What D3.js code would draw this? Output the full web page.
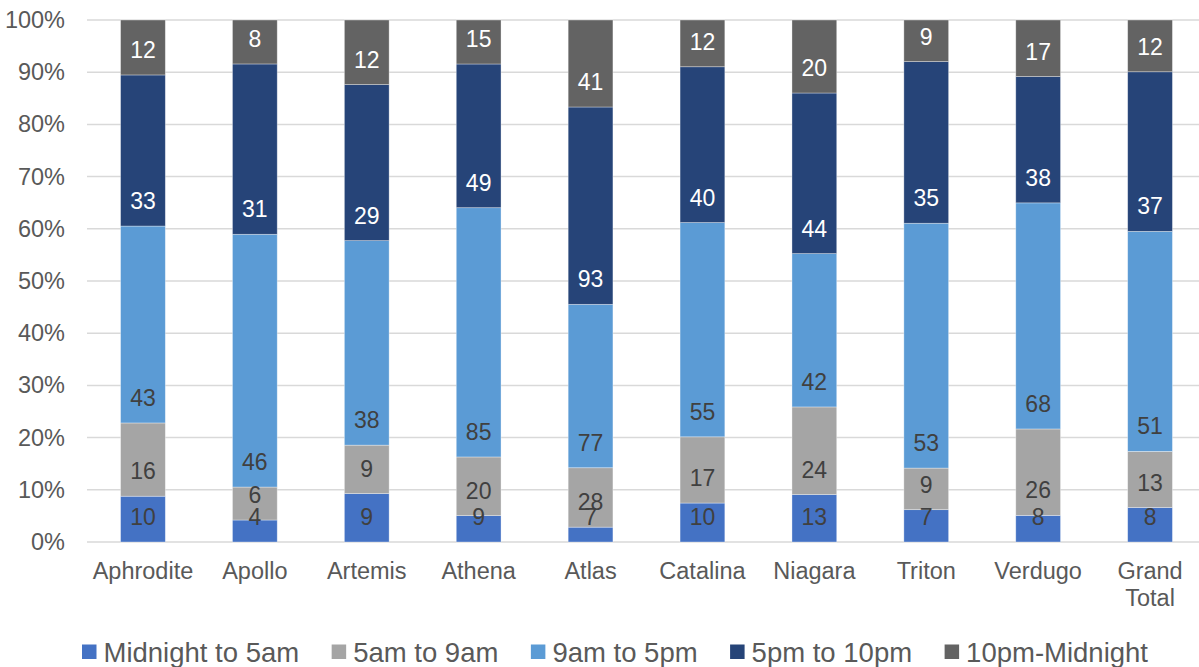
<!DOCTYPE html>
<html>
<head>
<meta charset="utf-8">
<script src="https://cdn.jsdelivr.net/npm/d3@7"></script>
<style>
  html, body { margin: 0; padding: 0; background: #fff; }
  svg { display: block; font-family: "Liberation Sans", Arial, sans-serif; }
</style>
</head>
<body>
<svg id="chart" width="1199" height="667"></svg>
<script>
// Sites (the last one is the overall figure)
const categories = ["Aphrodite", "Apollo", "Artemis", "Athena", "Atlas", "Catalina", "Niagara", "Triton", "Verdugo", "Grand Total"];

// Counts per time-of-day band
const seriesNames = ["Midnight to 5am", "5am to 9am", "9am to 5pm", "5pm to 10pm", "10pm-Midnight"];
const midnightTo5am = [10, 4, 9, 9, 7, 10, 13, 7, 8, 8];
const fiveTo9am     = [16, 6, 9, 20, 28, 17, 24, 9, 26, 13];
const nineTo5pm     = [43, 46, 38, 85, 77, 55, 42, 53, 68, 51];
const fiveTo10pm    = [33, 31, 29, 49, 93, 40, 44, 35, 38, 37];
const tenToMidnight = [12, 8, 12, 15, 41, 12, 20, 9, 17, 12];

const yTickLabels = ["0%", "10%", "20%", "30%", "40%", "50%", "60%", "70%", "80%", "90%", "100%"];

const seriesValues = [midnightTo5am, fiveTo9am, nineTo5pm, fiveTo10pm, tenToMidnight];
const colors = ["#4472C4", "#A5A5A5", "#5B9BD5", "#264478", "#636363"];
const labelColors = ["#404040", "#404040", "#404040", "#ffffff", "#ffffff"];

const svg = d3.select("#chart");
const axisFont = 23.5;
const labelFont = 23;
const legendFont = 27.5;
const margin = { left: 87, top: 20, bottom: 542 };
const plotRight = 1206;

// Build rows for the stack: share of each band within a site
const rows = categories.map((c, i) => {
  const total = d3.sum(seriesValues, s => s[i]);
  const row = { category: c };
  seriesNames.forEach((n, k) => { row[n] = seriesValues[k][i] / total; row[n + "_count"] = seriesValues[k][i]; });
  return row;
});
const stacked = d3.stack().keys(seriesNames)(rows);

const x = d3.scaleBand().domain(categories).range([margin.left, plotRight])
  .paddingInner(0.6).paddingOuter(0.3);
const y = d3.scaleLinear().domain([0, 1]).range([margin.bottom, margin.top]);

// Gridlines
const yTicks = d3.range(0, 1.0001, 0.1);
svg.append("g").selectAll("line").data(yTicks).join("line")
  .attr("x1", margin.left).attr("x2", plotRight)
  .attr("y1", d => y(d)).attr("y2", d => y(d))
  .attr("stroke", "#d9d9d9").attr("stroke-width", 1.5);

// Y axis labels
const yAxis = d3.axisLeft(y).tickValues(yTicks).tickFormat((d, i) => yTickLabels[i]).tickSize(0).tickPadding(22);
const yg = svg.append("g").attr("transform", `translate(${margin.left},0)`).call(yAxis);
yg.select(".domain").remove();
yg.selectAll("text").attr("fill", "#595959").attr("font-size", axisFont)
  .attr("font-family", "Liberation Sans, Arial, sans-serif");

// Bars
const layers = svg.append("g").selectAll("g").data(stacked).join("g")
  .attr("fill", (d, i) => colors[i]);
layers.selectAll("rect").data(d => d).join("rect")
  .attr("x", d => x(d.data.category))
  .attr("width", x.bandwidth())
  .attr("y", d => y(d[1]))
  .attr("height", d => y(d[0]) - y(d[1]))
  .attr("stroke", "rgba(255,255,255,0.45)").attr("stroke-width", 0.75);

// Data labels (counts), anchored just above the base of each segment
const baseOffset = 25;
stacked.forEach((layer, k) => {
  svg.append("g").selectAll("text").data(layer).join("text")
    .attr("x", d => x(d.data.category) + x.bandwidth() / 2)
    .attr("y", d => y(d[0]) - baseOffset)
    .attr("dy", "0.35em")
    .attr("text-anchor", "middle")
    .attr("font-size", labelFont)
    .attr("fill", labelColors[k])
    .text(d => d.data[layer.key + "_count"]);
});

// Category labels (wrapping multi-word names)
const catG = svg.append("g");
categories.forEach(c => {
  const words = c.split(" ");
  const cx = x(c) + x.bandwidth() / 2;
  const t = catG.append("text")
    .attr("x", cx)
    .attr("y", 579)
    .attr("text-anchor", "middle")
    .attr("font-size", axisFont)
    .attr("fill", "#595959");
  words.forEach((w, i) => {
    t.append("tspan").attr("x", cx).attr("dy", i === 0 ? 0 : 27).text(w);
  });
});

// Legend
const legend = svg.append("g");
let lx = 82;
const ly = 652;
seriesNames.forEach((n, k) => {
  legend.append("rect").attr("x", lx).attr("y", ly - 7.5).attr("width", 14.5).attr("height", 14.5).attr("fill", colors[k]);
  const t = legend.append("text").attr("x", lx + 21.5).attr("y", ly).attr("dy", "0.35em")
    .attr("font-size", legendFont).attr("fill", "#595959").text(n);
  lx += 21.5 + t.node().getComputedTextLength() + 32.5;
});
</script>
</body>
</html>
